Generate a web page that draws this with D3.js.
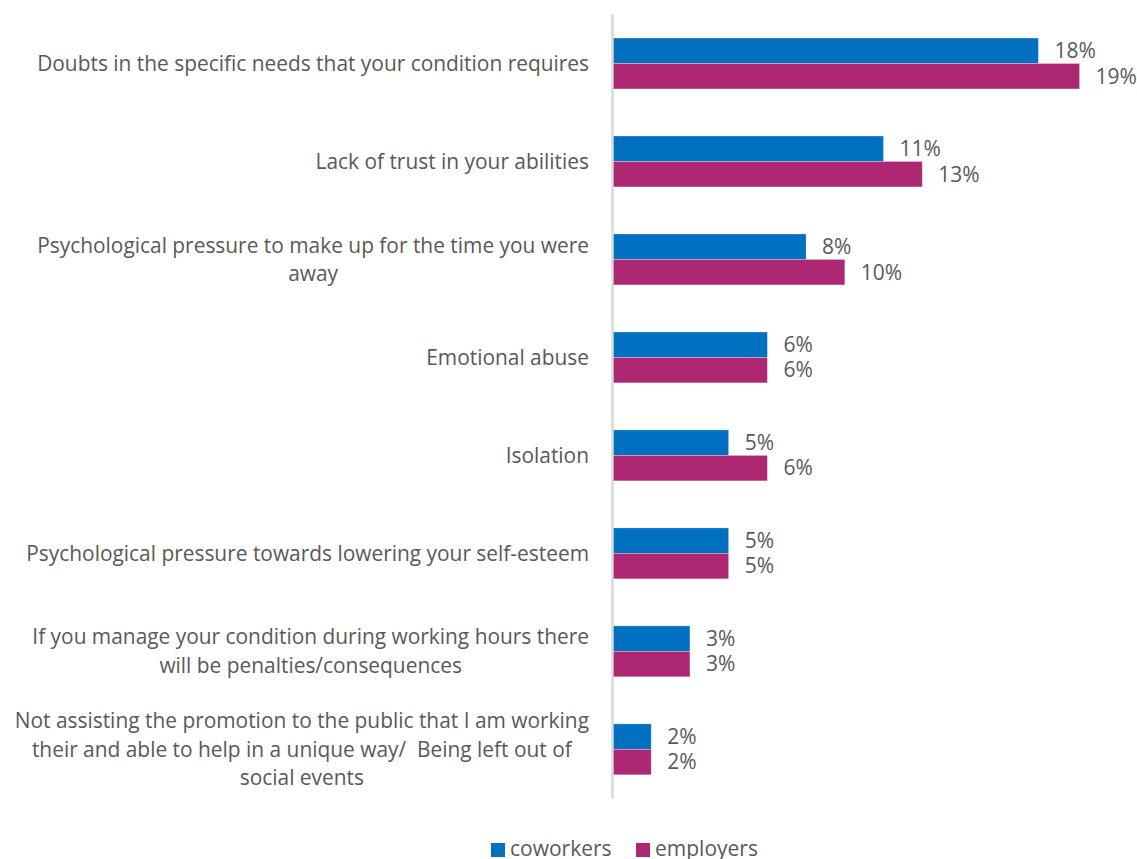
<!DOCTYPE html>
<html>
<head>
<meta charset="utf-8">
<script src="https://cdn.jsdelivr.net/npm/d3@7"></script>
<style>
  body { margin: 0; background: #fff; }
  text { font-family: "Open Sans", sans-serif; fill: #595959; white-space: pre; }
</style>
</head>
<body>
<div id="chart"></div>
<script>
// categories, each one split into its text lines
const categories = [
    ["Doubts in the specific needs that your condition requires"],
    ["Lack of trust in your abilities"],
    ["Psychological pressure to make up for the time you were", "away"],
    ["Emotional abuse"],
    ["Isolation"],
    ["Psychological pressure towards lowering your self-esteem"],
    ["If you manage your condition during working hours there", "will be penalties/consequences"],
    ["Not assisting the promotion to the public that I am working", "their and able to help in a unique way/  Being left out of", "social events"]
];
const seriesNames = ["coworkers", "employers"];
const coworkers = [17.6, 11.2, 8.0, 6.4, 4.8, 4.8, 3.2, 1.6];
const employers = [19.3, 12.8, 9.6, 6.4, 6.4, 4.8, 3.2, 1.6];
const colors = ["#0070C0", "#AD2773"];

const width = 1137;
const height = 859;

const svg = d3.select("#chart")
    .append("svg")
    .attr("width", width)
    .attr("height", height);

const ids = categories.map((c, i) => i);

const x = d3.scaleLinear()
    .domain([0, 20])
    .range([612.5, 612.5 + 20 * 24.2]);

const y = d3.scaleBand()
    .domain(ids)
    .range([14.5, 798.3])
    .paddingInner(0.48)
    .paddingOuter(0.24);

const sub = d3.scaleBand()
    .domain(seriesNames)
    .range([0, y.bandwidth()]);

const rows = ids.map(i => ({ id: i, values: [coworkers[i], employers[i]] }));

const groups = svg.selectAll("g.row")
    .data(rows)
    .enter()
    .append("g")
    .attr("class", "row")
    .attr("transform", d => `translate(0,${y(d.id)})`);

groups.selectAll("rect")
    .data(d => d.values.map((v, k) => ({ name: seriesNames[k], value: v, k: k })))
    .enter()
    .append("rect")
    .attr("x", x(0))
    .attr("y", d => sub(d.name))
    .attr("width", d => x(d.value) - x(0))
    .attr("height", sub.bandwidth())
    .attr("fill", d => colors[d.k])
    .attr("stroke", "#fff")
    .attr("stroke-opacity", 0.4)
    .style("stroke-width", "0.75px");

groups.selectAll("text.val")
    .data(d => d.values.map((v, k) => ({ name: seriesNames[k], value: v })))
    .enter()
    .append("text")
    .attr("class", "val")
    .attr("x", d => x(d.value) + 16)
    .attr("y", d => sub(d.name) + sub.bandwidth() / 2)
    .attr("dy", "0.35em")
    .style("font-size", "21px")
    .text(d => Math.round(d.value) + "%");

// axis line
svg.append("line")
    .attr("x1", x(0))
    .attr("x2", x(0))
    .attr("y1", y.range()[0])
    .attr("y2", y.range()[1])
    .attr("stroke", "#d9d9d9")
    .style("stroke-width", "2.5px");

// category labels, lines centred on each other, block right-aligned
const labelRight = 589;
const lineH = 28.5;
categories.forEach((lines, i) => {
    const cy = y(i) + y.bandwidth() / 2;
    const g = svg.append("g");
    const texts = lines.map((t, j) => g.append("text")
        .attr("y", cy + (j - (lines.length - 1) / 2) * lineH)
        .attr("dy", "0.35em")
        .attr("text-anchor", "middle")
        .style("font-size", "20.9px")
        .text(t));
    const w = d3.max(texts, t => t.node().getComputedTextLength());
    texts.forEach(t => t.attr("x", labelRight - w / 2));
});

// legend
const legend = svg.append("g");
const legendX = [491, 636];
seriesNames.forEach((name, k) => {
    legend.append("rect")
        .attr("x", legendX[k])
        .attr("y", 843)
        .attr("width", 14)
        .attr("height", 14)
        .attr("fill", colors[k]);
    legend.append("text")
        .attr("x", legendX[k] + 19)
        .attr("y", 856)
        .style("font-size", "21px")
        .text(name);
});
</script>
</body>
</html>
